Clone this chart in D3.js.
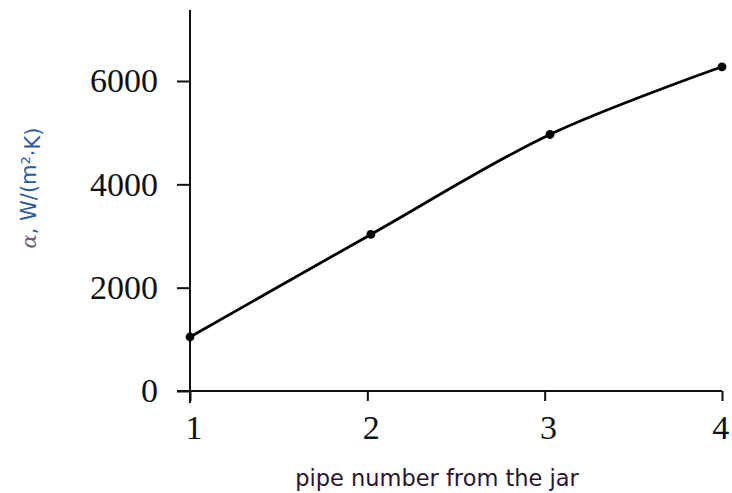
<!DOCTYPE html>
<html>
<head>
<meta charset="utf-8">
<script src="https://cdn.jsdelivr.net/npm/d3@7"></script>
<style>
  body { margin: 0; background: #fff; }
  svg { display: block; }
</style>
</head>
<body>
<div id="chart"></div>
<script>
// pipe number (as placed on the picture) and heat transfer coefficient
const pipeNumbers = [1, 2.02, 3.03, 4];
const alphaValues = [1045, 3030, 4965, 6275];
const xTicks = [1, 2, 3, 4];
const yTicks = [0, 2000, 4000, 6000];

const width = 732, height = 493;
const margin = {top: 10, right: 10, bottom: 102, left: 190};

const svg = d3.select("#chart").append("svg")
    .attr("width", width)
    .attr("height", height);

let x = d3.scaleLinear()
    .domain([1, 4])
    .range([margin.left, 722]);

let y = d3.scaleLinear()
    .domain([0, 6000])
    .range([391, 81]);

// y axis
let yAxis = svg.append("g")
    .attr("transform", `translate(${x(1)},0)`)
    .call(d3.axisLeft(y).tickValues(yTicks).tickSize(13).tickSizeOuter(0).tickPadding(19).tickFormat(d3.format("d")));
yAxis.select(".domain").attr("d", `M0,${y(0) + 12}V${margin.top}`);

// x axis
let xAxis = svg.append("g")
    .attr("transform", `translate(0,${y(0)})`)
    .call(d3.axisBottom(x).tickValues(xTicks).tickSize(10).tickSizeOuter(0).tickPadding(14).tickFormat(d3.format("d")));
xAxis.select(".domain").attr("d", `M${x(1) - 13},0H${x(4)}`);

svg.selectAll(".domain, .tick line")
    .attr("stroke", "#111")
    .attr("stroke-width", 2);

svg.selectAll(".tick text")
    .attr("fill", "#111")
    .style("font-family", "'Liberation Serif', 'Times New Roman', serif")
    .style("font-size", "34px");

xAxis.selectAll(".tick text").attr("dx", d => d === 4 ? "-0.05em" : "0.1em");

// fitted curve
const points = pipeNumbers.map((p, i) => [p, alphaValues[i]]);

let line = d3.line()
    .x(d => x(d[0]))
    .y(d => y(d[1]))
    .curve(d3.curveCatmullRom.alpha(0.5));

svg.append("path")
    .datum(points)
    .attr("d", line)
    .attr("fill", "none")
    .attr("stroke", "#000")
    .attr("stroke-width", 2.8);

svg.selectAll(".pt")
    .data(points)
    .enter().append("circle")
    .attr("class", "pt")
    .attr("cx", d => x(d[0]))
    .attr("cy", d => y(d[1]))
    .attr("r", 4.4)
    .attr("fill", "#000");

// axis titles
svg.append("text")
    .attr("x", 437)
    .attr("y", 486)
    .attr("text-anchor", "middle")
    .attr("fill", "#2a1430")
    .style("font-family", "'DejaVu Sans', Verdana, sans-serif")
    .style("font-size", "22.5px")
    .text("pipe number from the jar");

let yt = svg.append("text")
    .attr("transform", "translate(36,188) rotate(-90)")
    .attr("text-anchor", "middle")
    .attr("fill", "#2f5b9c")
    .style("font-family", "'DejaVu Sans', Verdana, sans-serif")
    .style("font-size", "21px");
yt.append("tspan")
    .style("font-family", "'DejaVu Serif', 'Liberation Serif', serif")
    .style("font-style", "italic")
    .attr("fill", "#6b5f7a")
    .text("α");
yt.append("tspan").text(", W/(m");
yt.append("tspan").attr("dy", "-0.45em").style("font-size", "13px").text("2");
yt.append("tspan").attr("dy", "0.45em").text("·K)");
</script>
</body>
</html>
